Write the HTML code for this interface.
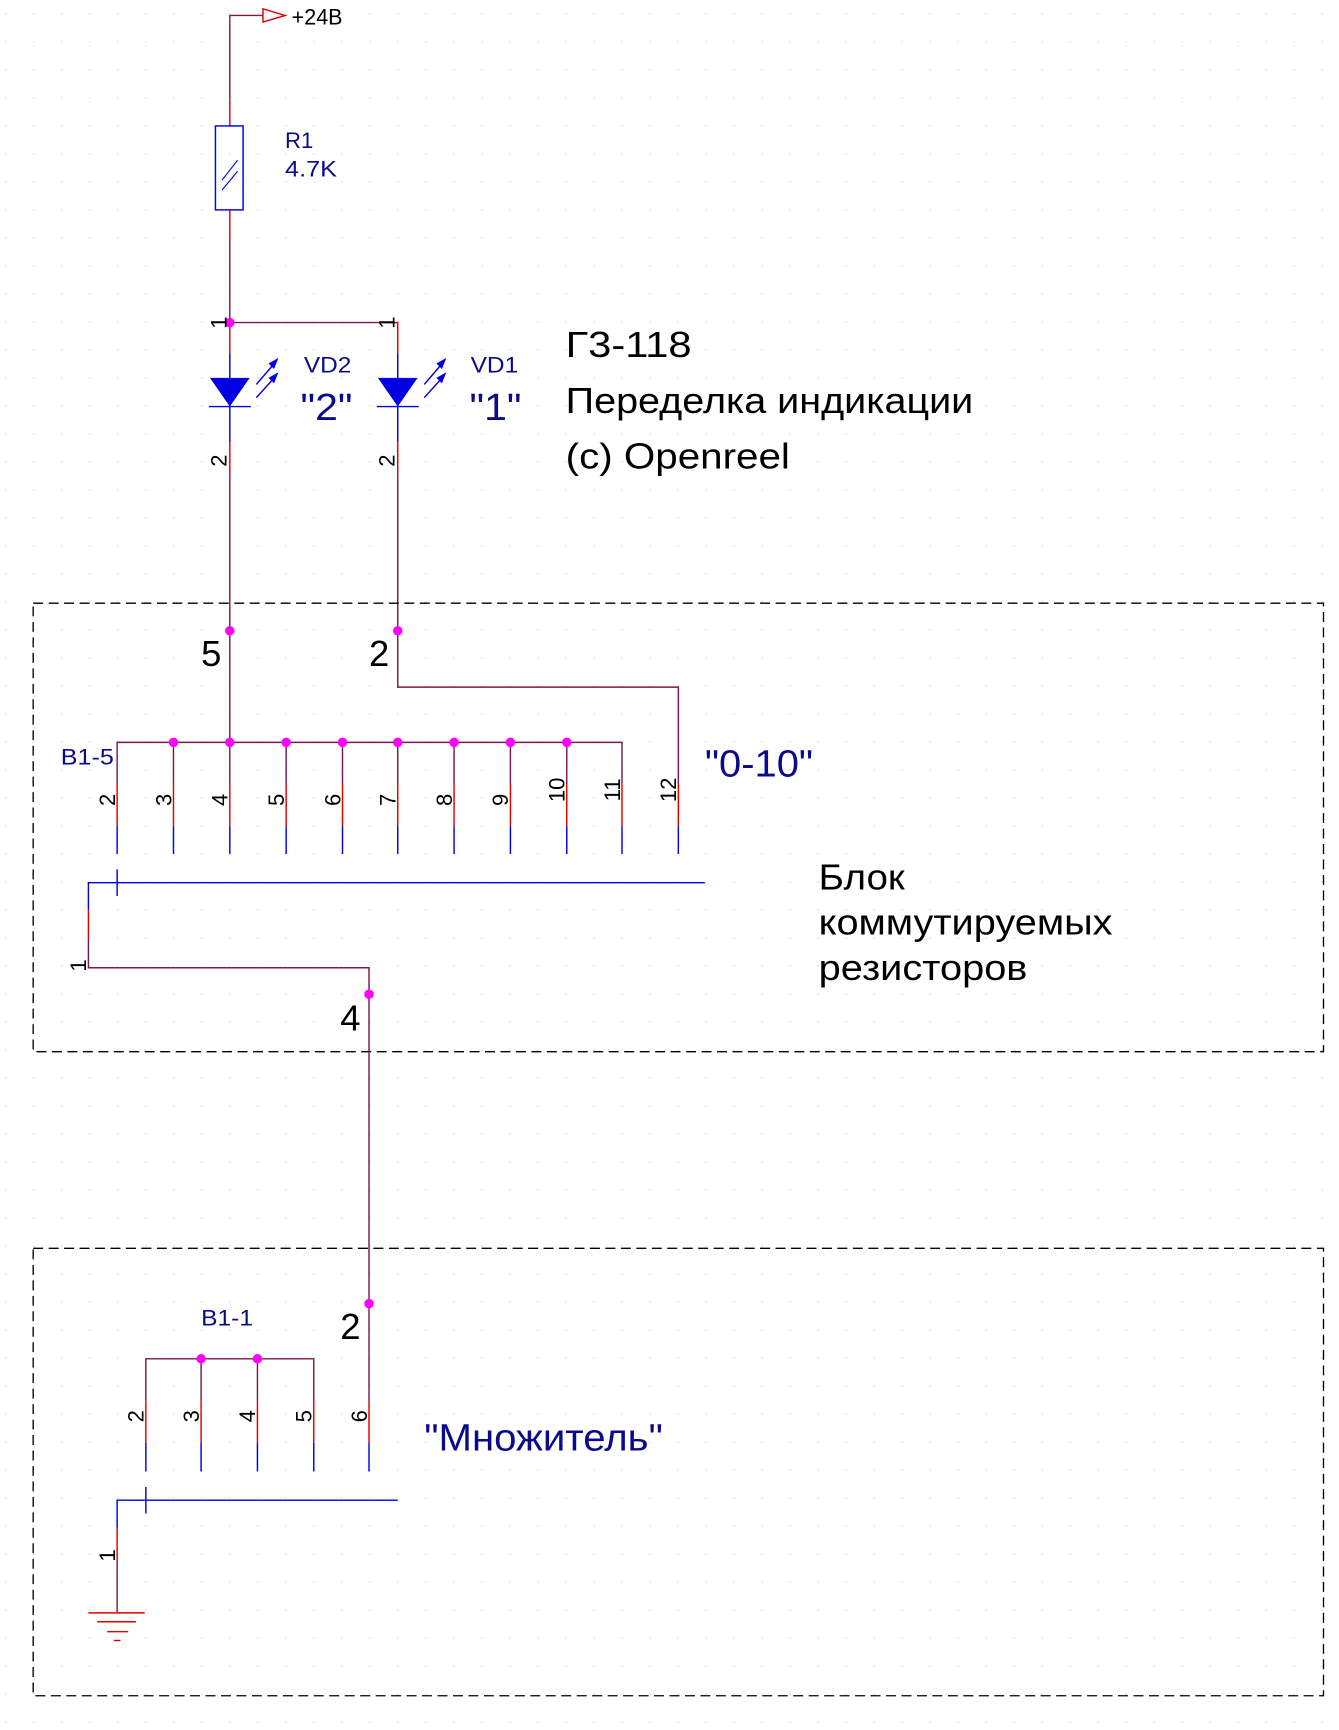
<!DOCTYPE html>
<html><head><meta charset="utf-8"><style>
html,body{margin:0;padding:0;background:#fff}
svg{display:block}
text{font-family:"Liberation Sans","DejaVu Sans",sans-serif}
</style></head><body>
<svg width="1339" height="1730" viewBox="0 0 1212 1566" xmlns="http://www.w3.org/2000/svg">
<defs>
<pattern id="g" x="4.8" y="12" width="25.35" height="25.35" patternUnits="userSpaceOnUse">
<rect x="0" y="0" width="1" height="1" fill="#c8c8c8"/>
</pattern>
</defs>
<rect width="1212" height="1566" fill="#fff"/>
<rect width="1212" height="1566" fill="url(#g)"/>

<g fill="none" stroke-width="1.3">
<polyline points="208,90 208,14 238,14" stroke="#7a1a4a"/>
<polygon points="238,8 258,14 238,20" stroke="#e00000"/>
<line x1="208" y1="90" x2="208" y2="114" stroke="#e00000"/>
<rect x="195" y="114" width="25" height="76" stroke="#0000e0"/>
<line x1="201" y1="163" x2="215" y2="145" stroke="#0000e0" stroke-width="1"/>
<line x1="201" y1="172" x2="215" y2="155" stroke="#0000e0" stroke-width="1"/>
<line x1="208" y1="190" x2="208" y2="215" stroke="#e00000"/>
<line x1="208" y1="215" x2="208" y2="292" stroke="#7a1a4a"/>
<polyline points="208,292 360,292" stroke="#7a1a4a"/>
<line x1="208" y1="292" x2="208" y2="320" stroke="#e00000"/>
<line x1="208" y1="320" x2="208" y2="400" stroke="#0000e0"/>
<line x1="189" y1="368" x2="227" y2="368" stroke="#0000e0"/>
<line x1="208" y1="400" x2="208" y2="430" stroke="#e00000"/>
<line x1="208" y1="430" x2="208" y2="571" stroke="#7a1a4a"/>
<polyline points="350,292 360,292 360,320" stroke="#e00000"/>
<line x1="360" y1="320" x2="360" y2="400" stroke="#0000e0"/>
<line x1="341" y1="368" x2="379" y2="368" stroke="#0000e0"/>
<line x1="360" y1="400" x2="360" y2="430" stroke="#e00000"/>
<polyline points="360,430 360,622 614,622 614,672" stroke="#7a1a4a"/>
<line x1="208" y1="571" x2="208" y2="672" stroke="#7a1a4a"/>
<g stroke="#0000e0">
<line x1="232" y1="348" x2="250" y2="327"/><line x1="232" y1="360" x2="250" y2="340"/>
<line x1="384" y1="348" x2="402" y2="327"/><line x1="384" y1="360" x2="402" y2="340"/>
</g>
</g>
<g fill="#0000e0">
<polygon points="190,342 226,342 208,368"/>
<polygon points="342,342 378,342 360,368"/>
<polygon points="252,324 243,329 248,334"/><polygon points="252,337 243,342 248,347"/>
<polygon points="404,324 395,329 400,334"/><polygon points="404,337 395,342 400,347"/>
</g>

<rect x="30" y="546" width="1168" height="406" fill="none" stroke="#000" stroke-width="1.2" stroke-dasharray="9,5"/>
<rect x="30" y="1130" width="1168" height="405" fill="none" stroke="#000" stroke-width="1.2" stroke-dasharray="9,5"/>

<g fill="none" stroke-width="1.3">
<polyline points="106,710 106,672 563,672 563,710" stroke="#7a1a4a"/>
<g stroke="#7a1a4a">
<line x1="157" y1="672" x2="157" y2="710"/><line x1="208" y1="672" x2="208" y2="710"/>
<line x1="259" y1="672" x2="259" y2="710"/><line x1="310" y1="672" x2="310" y2="710"/>
<line x1="360" y1="672" x2="360" y2="710"/><line x1="411" y1="672" x2="411" y2="710"/>
<line x1="462" y1="672" x2="462" y2="710"/><line x1="513" y1="672" x2="513" y2="710"/>
<line x1="614" y1="672" x2="614" y2="710"/>
</g>
<g stroke="#e00000">
<line x1="106" y1="710" x2="106" y2="748"/><line x1="157" y1="710" x2="157" y2="748"/>
<line x1="208" y1="710" x2="208" y2="748"/><line x1="259" y1="710" x2="259" y2="748"/>
<line x1="310" y1="710" x2="310" y2="748"/><line x1="360" y1="710" x2="360" y2="748"/>
<line x1="411" y1="710" x2="411" y2="748"/><line x1="462" y1="710" x2="462" y2="748"/>
<line x1="513" y1="710" x2="513" y2="748"/><line x1="563" y1="710" x2="563" y2="748"/>
<line x1="614" y1="710" x2="614" y2="748"/>
</g>
<g stroke="#0000e0">
<line x1="106" y1="748" x2="106" y2="773"/><line x1="157" y1="748" x2="157" y2="773"/>
<line x1="208" y1="748" x2="208" y2="773"/><line x1="259" y1="748" x2="259" y2="773"/>
<line x1="310" y1="748" x2="310" y2="773"/><line x1="360" y1="748" x2="360" y2="773"/>
<line x1="411" y1="748" x2="411" y2="773"/><line x1="462" y1="748" x2="462" y2="773"/>
<line x1="513" y1="748" x2="513" y2="773"/><line x1="563" y1="748" x2="563" y2="773"/>
<line x1="614" y1="748" x2="614" y2="773"/>
<polyline points="80,824 80,799 638,799"/>
<line x1="106" y1="787" x2="106" y2="811"/>
</g>
<line x1="80" y1="824" x2="80" y2="850" stroke="#e00000"/>
<polyline points="80,850 80,876 334,876 334,1180" stroke="#7a1a4a"/>

<polyline points="132,1268 132,1230 284,1230 284,1268" stroke="#7a1a4a"/>
<g stroke="#7a1a4a">
<line x1="182" y1="1230" x2="182" y2="1268"/><line x1="233" y1="1230" x2="233" y2="1268"/>
<line x1="334" y1="1180" x2="334" y2="1268"/>
</g>
<g stroke="#e00000">
<line x1="132" y1="1268" x2="132" y2="1306"/><line x1="182" y1="1268" x2="182" y2="1306"/>
<line x1="233" y1="1268" x2="233" y2="1306"/><line x1="284" y1="1268" x2="284" y2="1306"/>
<line x1="334" y1="1268" x2="334" y2="1306"/>
</g>
<g stroke="#0000e0">
<line x1="132" y1="1306" x2="132" y2="1332"/><line x1="182" y1="1306" x2="182" y2="1332"/>
<line x1="233" y1="1306" x2="233" y2="1332"/><line x1="284" y1="1306" x2="284" y2="1332"/>
<line x1="334" y1="1306" x2="334" y2="1332"/>
<polyline points="106,1383 106,1358 360,1358"/>
<line x1="132" y1="1346" x2="132" y2="1370"/>
</g>
<line x1="106" y1="1383" x2="106" y2="1413" stroke="#e00000"/>
<line x1="106" y1="1413" x2="106" y2="1460" stroke="#7a1a4a"/>
<g stroke="#e00000">
<line x1="80" y1="1460" x2="131" y2="1460"/>
<line x1="88" y1="1468" x2="123" y2="1468"/>
<line x1="97" y1="1477" x2="116" y2="1477"/>
<line x1="103" y1="1485" x2="109" y2="1485"/>
</g>
</g>

<g fill="#ff00ff">
<circle cx="208" cy="292" r="4.3"/>
<circle cx="208" cy="571" r="4.3"/><circle cx="360" cy="571" r="4.3"/>
<circle cx="157" cy="672" r="4.3"/><circle cx="208" cy="672" r="4.3"/>
<circle cx="259" cy="672" r="4.3"/><circle cx="310" cy="672" r="4.3"/>
<circle cx="360" cy="672" r="4.3"/><circle cx="411" cy="672" r="4.3"/>
<circle cx="462" cy="672" r="4.3"/><circle cx="513" cy="672" r="4.3"/>
<circle cx="334" cy="900" r="4.3"/><circle cx="334" cy="1180" r="4.3"/>
<circle cx="182" cy="1230" r="4.3"/><circle cx="233" cy="1230" r="4.3"/>
</g>

<text x="264" y="22" font-size="20" fill="#000" textLength="46" lengthAdjust="spacingAndGlyphs">+24B</text>
<g fill="#0a0a8a" font-size="20">
<text x="258" y="134">R1</text><text x="258" y="160" textLength="47" lengthAdjust="spacingAndGlyphs">4.7K</text>
<text x="275" y="337" textLength="43" lengthAdjust="spacingAndGlyphs">VD2</text><text x="426" y="337" textLength="43" lengthAdjust="spacingAndGlyphs">VD1</text>
<text x="55" y="692" textLength="48" lengthAdjust="spacingAndGlyphs">B1-5</text><text x="182" y="1200" textLength="47" lengthAdjust="spacingAndGlyphs">B1-1</text>
</g>
<g fill="#0a0a8a" font-size="34">
<text x="272" y="380" textLength="47" lengthAdjust="spacingAndGlyphs">"2"</text><text x="425" y="380" textLength="47" lengthAdjust="spacingAndGlyphs">"1"</text>
<text x="638" y="703" textLength="98" lengthAdjust="spacingAndGlyphs">"0-10"</text>
<text x="384" y="1313" textLength="216" lengthAdjust="spacingAndGlyphs">"Множитель"</text>
</g>
<g fill="#000" font-size="33">
<text x="512" y="323" textLength="114" lengthAdjust="spacingAndGlyphs">Г3-118</text>
<text x="512" y="374" textLength="369" lengthAdjust="spacingAndGlyphs">Переделка индикации</text>
<text x="512" y="424" textLength="203" lengthAdjust="spacingAndGlyphs">(с) Openreel</text>
<text x="741" y="805" textLength="78" lengthAdjust="spacingAndGlyphs">Блок</text>
<text x="741" y="846" textLength="266" lengthAdjust="spacingAndGlyphs">коммутируемых</text>
<text x="741" y="887" textLength="189" lengthAdjust="spacingAndGlyphs">резисторов</text>
<text x="182" y="603">5</text><text x="334" y="603">2</text>
<text x="308" y="933">4</text><text x="308" y="1212">2</text>
</g>
<g fill="#000" font-size="20">
<text transform="translate(205,292) rotate(-90)" text-anchor="middle">1</text>
<text transform="translate(357,292) rotate(-90)" text-anchor="middle">1</text>
<text transform="translate(205,417) rotate(-90)" text-anchor="middle">2</text>
<text transform="translate(357,417) rotate(-90)" text-anchor="middle">2</text>
<text transform="translate(104,724) rotate(-90)" text-anchor="middle">2</text>
<text transform="translate(155,724) rotate(-90)" text-anchor="middle">3</text>
<text transform="translate(206,724) rotate(-90)" text-anchor="middle">4</text>
<text transform="translate(257,724) rotate(-90)" text-anchor="middle">5</text>
<text transform="translate(308,724) rotate(-90)" text-anchor="middle">6</text>
<text transform="translate(358,724) rotate(-90)" text-anchor="middle">7</text>
<text transform="translate(409,724) rotate(-90)" text-anchor="middle">8</text>
<text transform="translate(460,724) rotate(-90)" text-anchor="middle">9</text>
<text transform="translate(511,715) rotate(-90)" text-anchor="middle">10</text>
<text transform="translate(561,715) rotate(-90)" text-anchor="middle">11</text>
<text transform="translate(612,715) rotate(-90)" text-anchor="middle">12</text>
<text transform="translate(78,874) rotate(-90)" text-anchor="middle">1</text>
<text transform="translate(130,1282) rotate(-90)" text-anchor="middle">2</text>
<text transform="translate(180,1282) rotate(-90)" text-anchor="middle">3</text>
<text transform="translate(231,1282) rotate(-90)" text-anchor="middle">4</text>
<text transform="translate(282,1282) rotate(-90)" text-anchor="middle">5</text>
<text transform="translate(332,1282) rotate(-90)" text-anchor="middle">6</text>
<text transform="translate(104,1408) rotate(-90)" text-anchor="middle">1</text>
</g>
</svg>
</body></html>
